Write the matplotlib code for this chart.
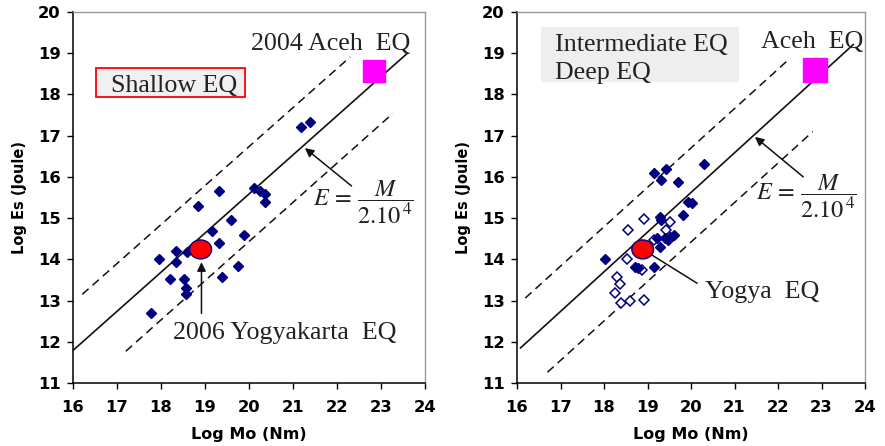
import matplotlib
matplotlib.use("Agg")
import matplotlib.pyplot as plt
from matplotlib.patches import Ellipse, Rectangle

plt.rcParams['mathtext.fontset'] = 'stix'

# ---------------- data ----------------
# Left panel: shallow earthquakes (log Mo, log Es)
shallow_mo = [17.78, 17.95, 18.20, 18.33, 18.33, 18.52, 18.57, 18.56, 18.60, 18.72,
              18.84, 19.17, 19.32, 19.32, 19.39, 19.60, 19.75, 19.88,
              20.11, 20.25, 20.36, 20.36, 21.19, 21.39]
shallow_es = [12.69, 14.01, 13.52, 14.21, 13.94, 13.52, 13.31, 13.17, 14.17, 14.30,
              15.30, 14.69, 15.66, 14.40, 13.56, 14.95, 13.83, 14.59,
              15.72, 15.66, 15.58, 15.40, 17.20, 17.32]

# Right panel: intermediate (filled) and deep (open) earthquakes
inter_mo = [18.02, 18.72, 18.78, 19.15, 19.15, 19.43, 19.31, 19.71, 20.29,
            19.94, 20.02, 19.81, 19.29, 19.32, 19.22, 19.29, 19.41, 19.52,
            19.60, 19.48]
inter_es = [14.01, 13.82, 13.78, 13.82, 16.09, 16.18, 15.92, 15.88, 16.31,
            15.40, 15.37, 15.07, 15.03, 14.95, 14.51, 14.29, 14.51, 14.53,
            14.59, 14.47]
deep_mo = [18.91, 18.55, 19.52, 19.43, 18.54, 18.87, 18.30, 18.36, 18.26,
           18.39, 18.59, 18.91, 19.15]
deep_es = [14.99, 14.71, 14.91, 14.71, 14.02, 13.74, 13.57, 13.41, 13.19,
           12.94, 12.99, 13.01, 14.48]

# Aceh and Yogyakarta events
aceh_left = (22.83, 18.58)
aceh_right = (22.85, 18.60)
yogya_left = (18.90, 14.24)
yogya_right = (18.89, 14.24)

# Reference line E = M / 2.10^4 and bounds (end points)
left_fit_x, left_fit_y = [16.0, 23.6], [11.79, 19.0]
left_up_x, left_up_y = [16.21, 22.30], [13.15, 18.91]
left_lo_x, left_lo_y = [17.20, 23.27], [11.77, 17.54]
right_fit_x, right_fit_y = [16.08, 23.73], [11.85, 19.21]
right_up_x, right_up_y = [16.19, 22.28], [13.06, 18.88]
right_lo_x, right_lo_y = [16.70, 22.80], [11.26, 17.10]

x_ticks = [16, 17, 18, 19, 20, 21, 22, 23, 24]
y_ticks = [11, 12, 13, 14, 15, 16, 17, 18, 19, 20]

NAVY = '#000080'
SERIF = 'Liberation Serif'
SANS = 'DejaVu Sans'
TXT = '#222222'
FS = 18.7

fig = plt.figure(figsize=(8.85, 4.46), dpi=100)
axL = fig.add_axes([73 / 885, 1 - 383 / 446, (425 - 73) / 885, (383 - 12) / 446])
axR = fig.add_axes([517 / 885, 1 - 383 / 446, (865 - 517) / 885, (383 - 12) / 446])


def style(ax):
    ax.set_xlim(16, 24)
    ax.set_ylim(11, 20)
    ax.set_xticks(x_ticks)
    ax.set_yticks(y_ticks)
    ax.set_xticklabels([str(t) for t in x_ticks], fontfamily=SANS,
                       fontweight='bold', fontsize=11.8)
    ax.set_yticklabels([str(t) for t in y_ticks], fontfamily=SANS,
                       fontweight='bold', fontsize=11.8)
    ax.tick_params(axis='x', direction='out', length=4, width=1, pad=8)
    ax.tick_params(axis='y', direction='out', length=4, width=1, pad=5)
    for s in ['left', 'bottom']:
        ax.spines[s].set_color('black')
        ax.spines[s].set_linewidth(1.1)
    for s in ['top', 'right']:
        ax.spines[s].set_color('#999999')
        ax.spines[s].set_linewidth(1.0)
    ax.set_xlabel('Log Mo (Nm)', fontfamily=SANS, fontweight='bold',
                  fontsize=11.5, labelpad=9)
    ax.set_ylabel('Log Es (Joule)', fontfamily=SANS, fontweight='bold',
                  fontsize=10.5, labelpad=8)


def lines(ax, fx, fy, ux, uy, lx, ly):
    ax.plot(fx, fy, color='#111111', lw=1.2, zorder=2)
    ax.plot(ux, uy, color='#111111', lw=1.1, dashes=(5.5, 3.5), zorder=2)
    ax.plot(lx, ly, color='#111111', lw=1.1, dashes=(5.5, 3.5), zorder=2)


arrow = dict(arrowstyle='-|>', color='#111111', lw=1.1, mutation_scale=13,
             shrinkA=0, shrinkB=0)
formula = r'$E\,=\,\dfrac{M}{2.10^{\,4}}$'

# ---------------- left panel ----------------
style(axL)
lines(axL, left_fit_x, left_fit_y, left_up_x, left_up_y, left_lo_x, left_lo_y)
axL.plot(shallow_mo, shallow_es, linestyle='none', marker='D', ms=5.3,
         color=NAVY, mec=NAVY, zorder=3)
axL.plot([aceh_left[0]], [aceh_left[1]], linestyle='none', marker='s', ms=15.5,
         color='#ff00ff', mec='#ff00ff', zorder=3)
axL.add_patch(Ellipse(yogya_left, 0.5, 0.46, facecolor='#ff0000',
                      edgecolor=NAVY, lw=1.0, zorder=4))
axL.text(20.04, 19.08, '2004 Aceh  EQ', fontfamily=SERIF, fontsize=FS,
         ha='left', va='baseline', color=TXT)
axL.add_patch(Rectangle((16.52, 17.94), 3.38, 0.71, facecolor='#f0f0f0',
                        edgecolor='#ff0000', lw=1.3, zorder=4))
axL.text(16.86, 18.06, 'Shallow EQ', fontfamily=SERIF, fontsize=FS,
         ha='left', va='baseline', color=TXT, zorder=5)
axL.text(18.27, 12.06, '2006 Yogyakarta  EQ', fontfamily=SERIF, fontsize=FS,
         ha='left', va='baseline', color=TXT)
axL.annotate('', xy=(18.92, 13.93), xytext=(18.92, 12.69), arrowprops=arrow)
axL.annotate('', xy=(21.27, 16.70), xytext=(22.33, 15.78), arrowprops=arrow)
axL.text(22.6, 15.39, formula, fontsize=17.5, ha='center', va='center',
         color=TXT)

# ---------------- right panel ----------------
style(axR)
lines(axR, right_fit_x, right_fit_y, right_up_x, right_up_y, right_lo_x, right_lo_y)
axR.plot(deep_mo, deep_es, linestyle='none', marker='D', ms=5.0,
         mfc='white', mec=NAVY, mew=1.1, zorder=3)
axR.plot(inter_mo, inter_es, linestyle='none', marker='D', ms=5.3,
         color=NAVY, mec=NAVY, zorder=3)
axR.plot([aceh_right[0]], [aceh_right[1]], linestyle='none', marker='s', ms=17,
         color='#ff00ff', mec='#ff00ff', zorder=3)
axR.add_patch(Ellipse(yogya_right, 0.5, 0.46, facecolor='#ff0000',
                      edgecolor=NAVY, lw=1.0, zorder=4))
axR.add_patch(Rectangle((16.55, 18.31), 4.55, 1.33, facecolor='#eeeeee',
                        edgecolor='none', zorder=1))
axR.text(16.88, 19.06, 'Intermediate EQ', fontfamily=SERIF, fontsize=FS,
         ha='left', va='baseline', color=TXT, zorder=5)
axR.text(16.88, 18.38, 'Deep EQ', fontfamily=SERIF, fontsize=FS,
         ha='left', va='baseline', color=TXT, zorder=5)
axR.text(21.61, 19.13, 'Aceh  EQ', fontfamily=SERIF, fontsize=FS,
         ha='left', va='baseline', color=TXT, zorder=5)
axR.text(20.33, 13.05, 'Yogya  EQ', fontfamily=SERIF, fontsize=FS,
         ha='left', va='baseline', color=TXT)
axR.annotate('', xy=(18.88, 14.25), xytext=(20.14, 13.42), arrowprops=arrow)
axR.annotate('', xy=(21.47, 16.97), xytext=(22.58, 16.0), arrowprops=arrow)
axR.text(22.65, 15.54, formula, fontsize=17.5, ha='center', va='center',
         color=TXT)

fig.savefig('out.png', dpi=100)
